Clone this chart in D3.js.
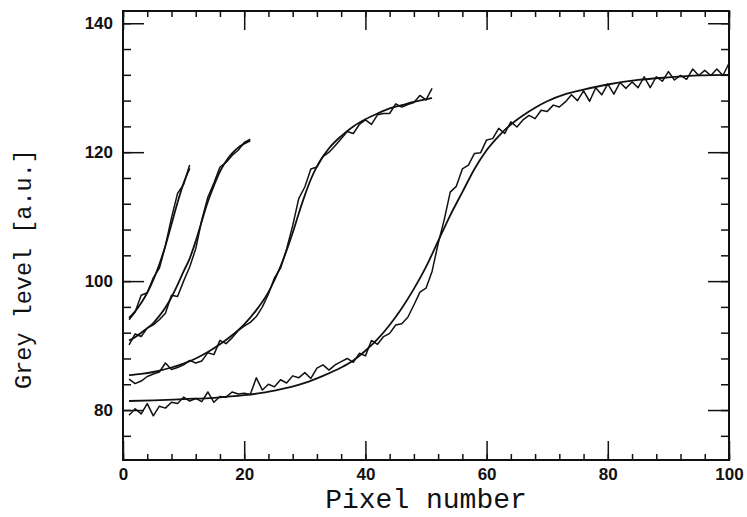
<!DOCTYPE html>
<html>
<head>
<meta charset="utf-8">
<title>Grey level profiles</title>
<script src="https://d3js.org/d3.v7.min.js"></script>
<style>
  body { margin: 0; background: #fff; }
  .tick text { font-family: "Liberation Sans", Arial, sans-serif; font-weight: bold; font-size: 17px; fill: #111; }
  .tick line { stroke: #111; stroke-width: 1.5; }
  .title { font-family: "Liberation Mono", "Courier New", monospace; fill: #111; }
</style>
</head>
<body>
<div id="chart"></div>
<script>
// x ticks / y ticks
var xMajor = [0, 20, 40, 60, 80, 100];
var yMajor = [80, 100, 120, 140];

// profile 1 (short, left)
var data1X = [1, 2, 3, 4, 5, 6, 7, 8, 9, 10, 11];
var data1Y = [94.0, 95.2, 97.8, 98.2, 100.5, 102.0, 105.5, 109.8, 113.6, 115.0, 118.0];
var fit1Y  = [94.3, 95.3, 96.6, 98.2, 100.2, 102.6, 105.5, 108.8, 112.2, 115.2, 117.5];

// profile 2
var data2X = [1, 2, 3, 4, 5, 6, 7, 8, 9, 10, 11, 12, 13, 14, 15, 16, 17, 18, 19, 20, 21];
var data2Y = [90.1, 91.8, 91.4, 92.7, 93.2, 94.0, 95.0, 97.8, 97.6, 100.0, 102.2, 105.0, 109.5, 113.0, 115.2,
              117.7, 118.4, 119.5, 120.3, 121.5, 122.0];
var fit2Y  = [90.8, 91.3, 92.0, 92.7, 93.5, 94.6, 95.9, 97.5, 99.4, 101.5, 103.5, 106.2, 109.3, 112.3, 114.8,
              117.0, 118.6, 119.8, 120.7, 121.3, 121.8];

// profile 3
var data3Y = [84.8, 84.1, 84.5, 85.2, 85.6, 85.9, 87.3, 86.3, 86.6, 87.0,
              87.7, 87.3, 87.6, 88.9, 88.6, 90.8, 90.3, 91.2, 92.3, 93.0,
              93.6, 94.5, 96.0, 98.0, 100.5, 102.0, 105.0, 108.6, 112.8, 114.6,
              117.4, 117.7, 119.3, 120.0, 121.0, 122.1, 123.2, 122.9, 124.3, 125.0,
              124.3, 125.8, 126.0, 126.0, 127.5, 127.0, 127.4, 127.7, 128.8, 128.1, 129.9];
var fit3X = [1, 3, 5, 8, 10, 12, 14, 16, 18, 20, 22, 24, 26, 28, 29, 30, 31, 32, 34, 36, 38, 40, 42, 44, 46, 48, 50, 51];
var fit3Y = [85.4, 85.6, 85.9, 86.6, 87.2, 88.0, 89.0, 90.2, 91.6, 93.3, 95.5, 98.3, 102.3, 107.5, 110.5, 113.3,
             115.8, 117.8, 120.6, 122.5, 124.0, 125.1, 126.0, 126.8, 127.3, 127.8, 128.2, 128.4];

// profile 4 (full width)
var data4Y = [79.2, 80.2, 79.4, 81.0, 79.1, 80.6, 80.3, 81.2, 81.0, 82.0,
              81.4, 81.8, 81.3, 82.8, 81.2, 82.1, 82.0, 82.8, 82.5, 82.6,
              82.4, 85.0, 83.1, 84.0, 83.6, 84.7, 84.2, 85.3, 85.0, 85.8,
              84.9, 86.5, 87.0, 86.2, 87.0, 87.5, 88.0, 87.4, 88.8, 88.4,
              90.8, 90.2, 91.4, 91.9, 93.2, 93.4, 94.4, 96.3, 98.3, 98.9,
              101.5, 105.8, 109.5, 113.8, 114.7, 117.4, 118.0, 119.8, 119.9, 121.9,
              122.1, 123.7, 122.9, 124.7, 123.9, 125.0, 125.7, 125.2, 126.5, 126.3,
              127.3, 127.0, 127.8, 128.9, 128.0, 129.5, 127.9, 130.0, 128.9, 130.6,
              129.0, 130.8, 129.9, 130.9, 130.0, 131.7, 130.0, 131.7, 131.0, 132.5,
              131.2, 131.9, 131.3, 132.9, 131.9, 132.7, 131.9, 132.9, 131.9, 133.8];
var fit4X = [1, 5, 10, 15, 20, 25, 30, 33, 36, 38, 40, 42, 44, 46, 48, 50, 52, 54, 56, 58, 60, 62, 64, 66, 68, 70,
             73, 76, 80, 85, 90, 95, 100];
var fit4Y = [81.4, 81.5, 81.7, 81.9, 82.3, 83.0, 84.2, 85.3, 86.6, 87.7, 89.2, 91.0, 93.2, 95.8, 98.8, 102.2,
             106.2, 110.2, 113.8, 117.4, 120.3, 122.5, 124.3, 125.7, 126.9, 127.9, 129.0, 129.7, 130.5, 131.2,
             131.6, 131.9, 132.0];

var W = 747, H = 517;
var margin = {left: 123, right: 729, top: 11, bottom: 460};

var svg = d3.select("#chart").append("svg")
    .attr("width", W)
    .attr("height", H);

var x = d3.scaleLinear().domain([0, 100]).range([margin.left, margin.right]);
var y = d3.scaleLinear().domain([72.25, 141.9]).range([margin.bottom, margin.top]);

var xMinor = d3.range(0, 101, 4);
var yMinor = d3.range(76, 141, 4);

// axes, ticks inside on all four sides
function axisGroup(axis, tr) {
  var g = svg.append("g").attr("transform", tr).call(axis);
  g.select(".domain").remove();
  return g;
}
var atBottom = "translate(0," + margin.bottom + ")",
    atTop = "translate(0," + margin.top + ")",
    atLeft = "translate(" + margin.left + ",0)",
    atRight = "translate(" + margin.right + ",0)";

axisGroup(d3.axisBottom(x).tickValues(xMinor).tickSize(-6).tickFormat(""), atBottom);
axisGroup(d3.axisBottom(x).tickValues(xMajor).tickSize(-19).tickPadding(8).tickFormat(d3.format("d")), atBottom);
axisGroup(d3.axisTop(x).tickValues(xMinor).tickSize(-6).tickFormat(""), atTop);
axisGroup(d3.axisTop(x).tickValues(xMajor).tickSize(-19).tickFormat(""), atTop);
axisGroup(d3.axisLeft(y).tickValues(yMinor).tickSize(-8).tickFormat(""), atLeft);
axisGroup(d3.axisLeft(y).tickValues(yMajor).tickSize(-21).tickPadding(10).tickFormat(d3.format("d")), atLeft);
axisGroup(d3.axisRight(y).tickValues(yMinor).tickSize(-8).tickFormat(""), atRight);
axisGroup(d3.axisRight(y).tickValues(yMajor).tickSize(-21).tickFormat(""), atRight);

svg.append("rect")
    .attr("x", margin.left).attr("y", margin.top)
    .attr("width", margin.right - margin.left).attr("height", margin.bottom - margin.top)
    .attr("fill", "none").attr("stroke", "#111").attr("stroke-width", 2);

// curves
var lineData = d3.line().x(function(d) { return x(d[0]); }).y(function(d) { return y(d[1]); });
var lineFit = d3.line().curve(d3.curveMonotoneX).x(function(d) { return x(d[0]); }).y(function(d) { return y(d[1]); });

function zip(xs, ys) { return ys.map(function(v, i) { return [xs[i], v]; }); }
function seq(n) { return d3.range(1, n + 1); }

var dataSets = [zip(data1X, data1Y), zip(data2X, data2Y), zip(seq(data3Y.length), data3Y), zip(seq(data4Y.length), data4Y)];
var fitSets = [zip(data1X, fit1Y), zip(data2X, fit2Y), zip(fit3X, fit3Y), zip(fit4X, fit4Y)];

svg.append("g").selectAll("path.fit").data(fitSets).enter().append("path")
    .attr("class", "fit")
    .attr("fill", "none").attr("stroke", "#111").attr("stroke-width", 1.8)
    .attr("d", lineFit);

svg.append("g").selectAll("path.raw").data(dataSets).enter().append("path")
    .attr("class", "raw")
    .attr("fill", "none").attr("stroke", "#111").attr("stroke-width", 1.5)
    .attr("stroke-linejoin", "round")
    .attr("d", lineData);

// titles
svg.append("text").attr("class", "title")
    .attr("x", (margin.left + margin.right) / 2).attr("y", 508)
    .attr("text-anchor", "middle").style("font-size", "28px")
    .text("Pixel number");

svg.append("text").attr("class", "title")
    .attr("transform", "translate(31,269) rotate(-90)")
    .attr("text-anchor", "middle").style("font-size", "23.5px")
    .text("Grey level [a.u.]");
</script>
</body>
</html>
